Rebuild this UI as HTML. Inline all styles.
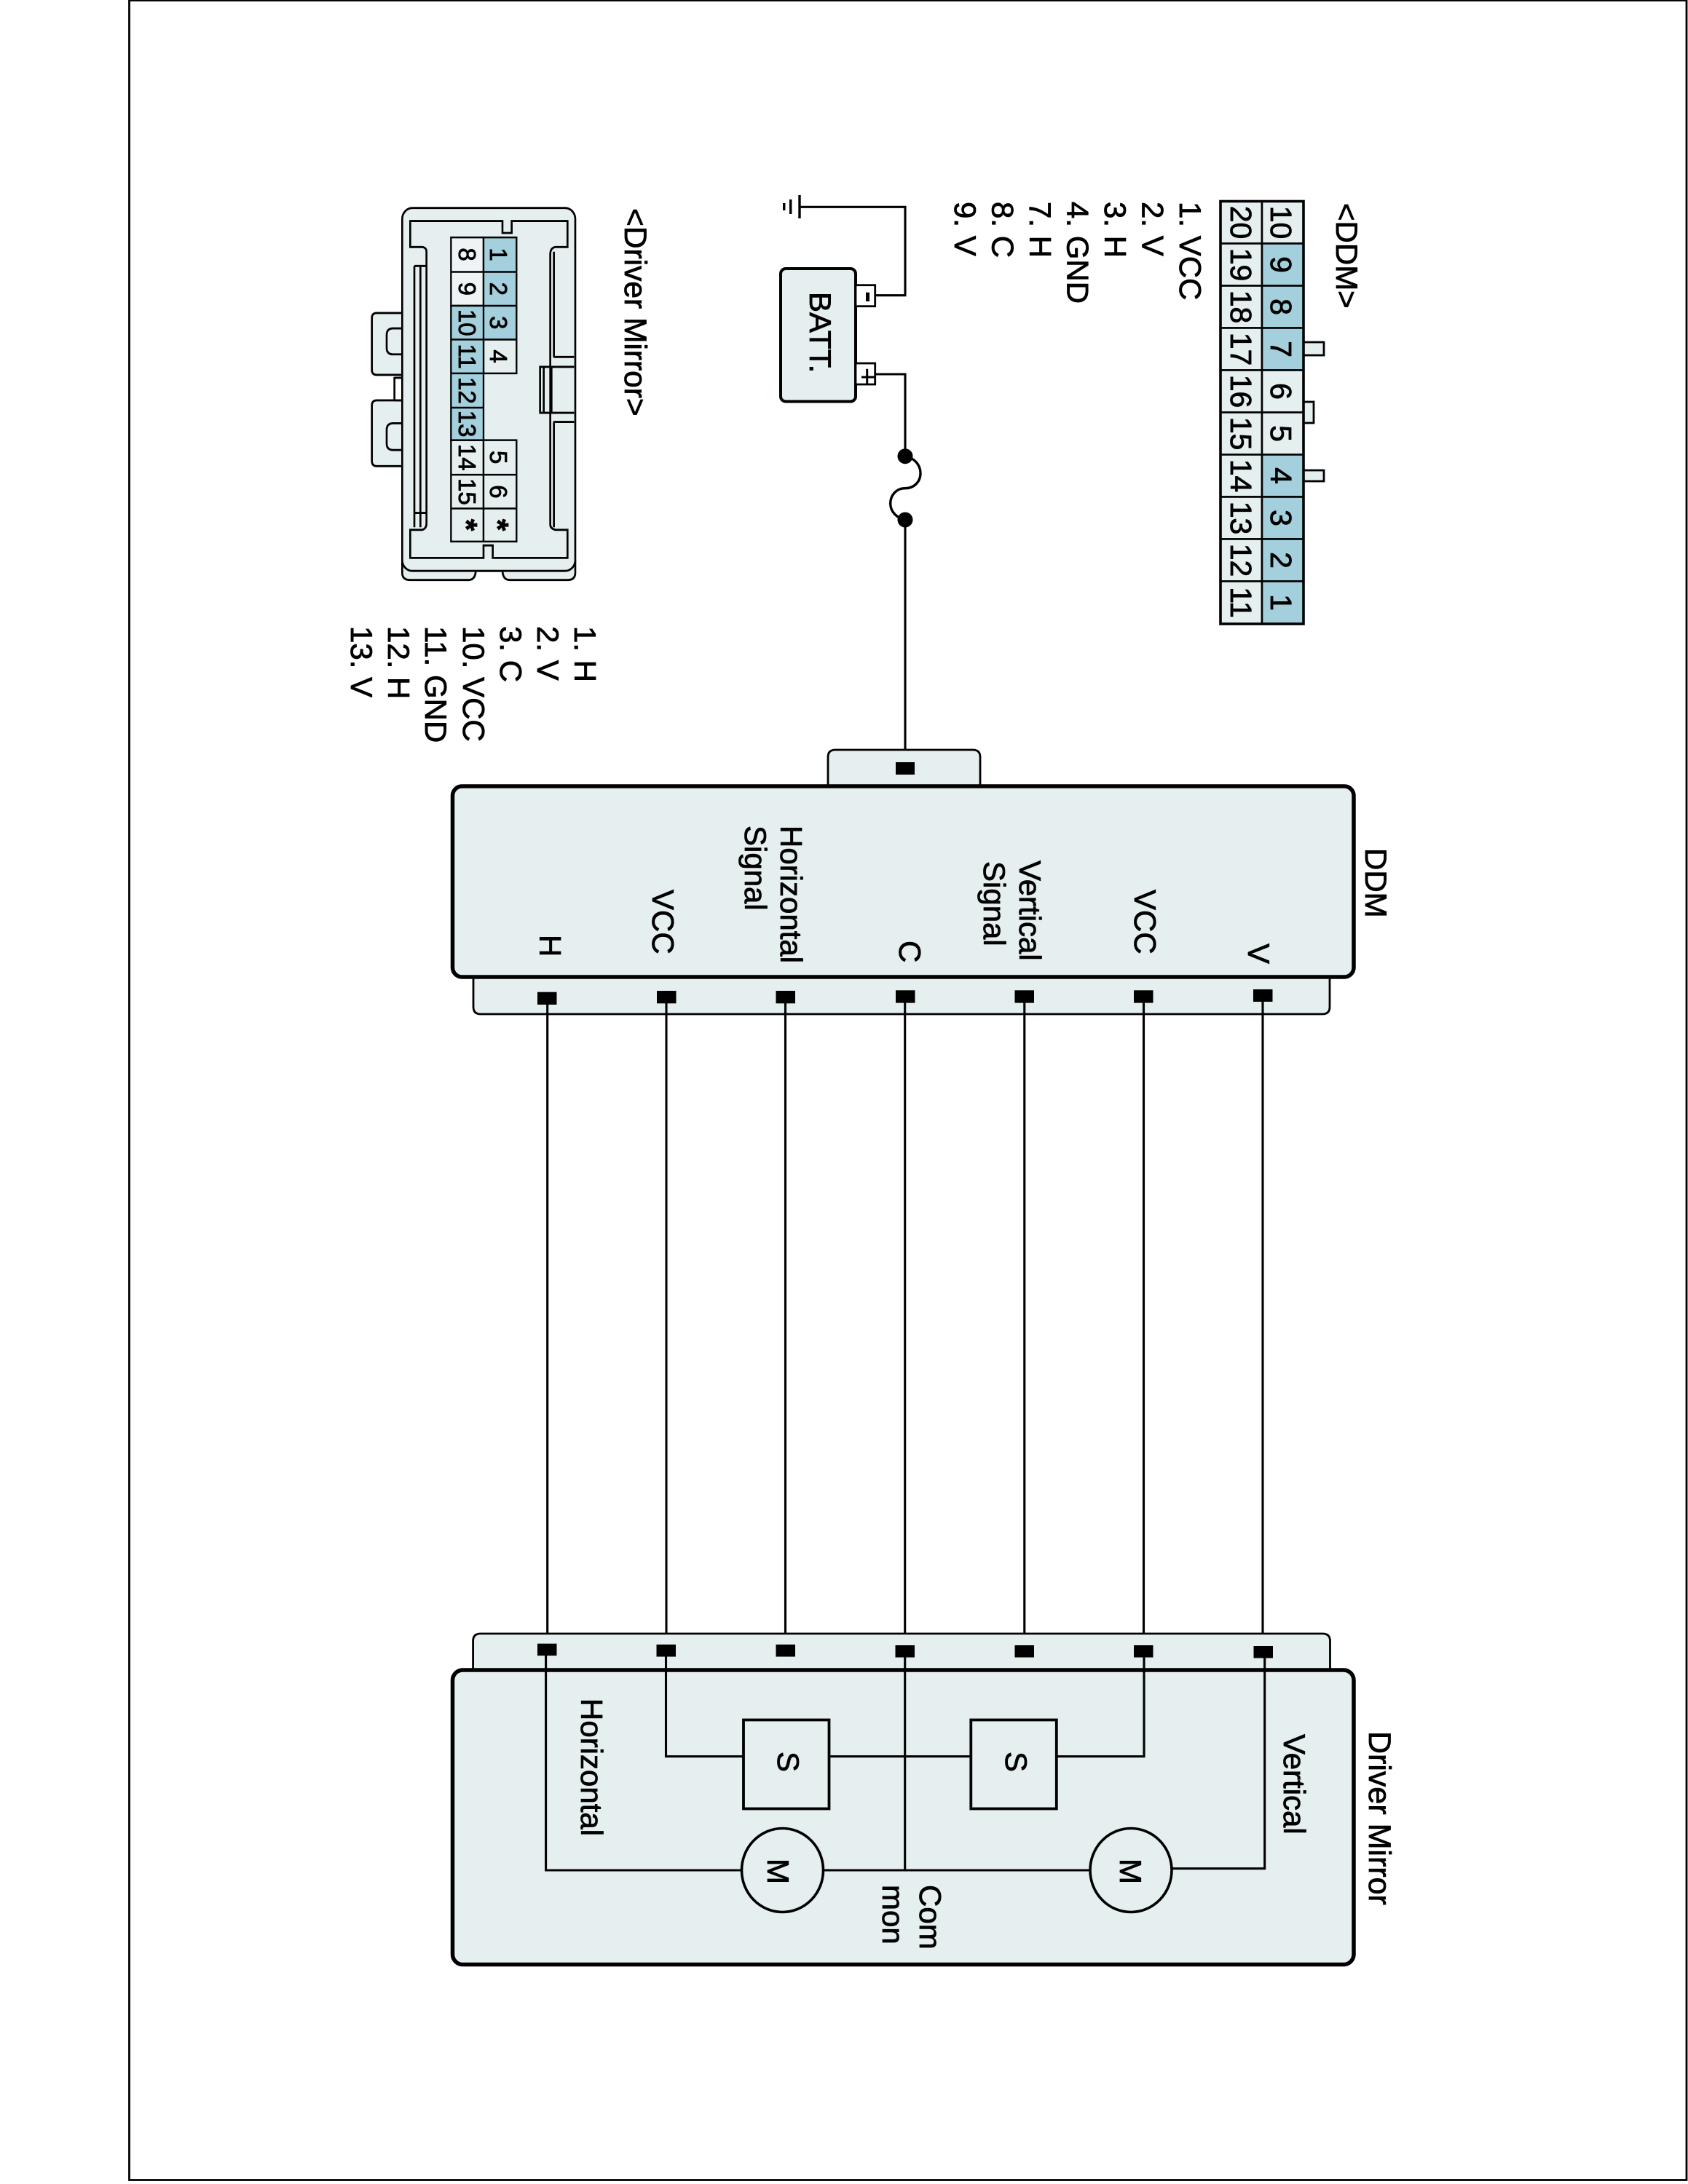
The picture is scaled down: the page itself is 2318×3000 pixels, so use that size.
<!DOCTYPE html>
<html lang="en">
<head>
<meta charset="utf-8">
<title>Driver Mirror wiring diagram</title>
<style>
html,body{margin:0;padding:0;background:#fff;width:2318px;height:3000px;overflow:hidden}
svg{display:block}
text{font-family:"Liberation Sans",sans-serif;font-size:42px;fill:#000;stroke:#000;stroke-width:.8}
.w{fill:none;stroke:#000;stroke-width:3.1}
.l{fill:#e6eff0;stroke:#000;stroke-width:2.8}
.b{fill:#e6eff0;stroke:#000;stroke-width:5.5}
.c{fill:#e6eff0;stroke:#000;stroke-width:2.6}
.bl{fill:#a3d0dc;stroke:#000;stroke-width:2.6}
.s{fill:none;stroke:#000;stroke-width:8}
.sf{fill:#e6eff0;stroke:#000;stroke-width:8}
.p{font-size:33px}
.n{font-size:41px}
</style>
</head>
<body>
<svg xmlns="http://www.w3.org/2000/svg" width="2318" height="3000" viewBox="0 0 2318 3000">
<rect width="2318" height="3000" fill="#fff"/>
<rect x="177.5" y="0.5" width="2138.5" height="2994" fill="none" stroke="#000" stroke-width="2.8"/>

<!-- DDM pin connector -->
<g>
<rect class="l" x="1790" y="470" width="28" height="18"/>
<rect class="l" x="1790" y="552" width="14" height="29"/>
<rect class="l" x="1790" y="646" width="28" height="15"/>
<rect class="c" x="1676" y="276.5" width="57" height="58"/><rect class="c" x="1676" y="334.5" width="57" height="58"/>
<rect class="c" x="1676" y="392.5" width="57" height="58"/><rect class="c" x="1676" y="450.5" width="57" height="58"/>
<rect class="c" x="1676" y="508.5" width="57" height="58"/><rect class="c" x="1676" y="566.5" width="57" height="58"/>
<rect class="c" x="1676" y="624.5" width="57" height="58"/><rect class="c" x="1676" y="682.5" width="57" height="58"/>
<rect class="c" x="1676" y="740.5" width="57" height="58"/><rect class="c" x="1676" y="798.5" width="57" height="58.5"/>
<rect class="c" x="1733" y="276.5" width="57" height="58"/><rect class="bl" x="1733" y="334.5" width="57" height="58"/>
<rect class="bl" x="1733" y="392.5" width="57" height="58"/><rect class="bl" x="1733" y="450.5" width="57" height="58"/>
<rect class="c" x="1733" y="508.5" width="57" height="58"/><rect class="c" x="1733" y="566.5" width="57" height="58"/>
<rect class="bl" x="1733" y="624.5" width="57" height="58"/><rect class="bl" x="1733" y="682.5" width="57" height="58"/>
<rect class="bl" x="1733" y="740.5" width="57" height="58"/><rect class="bl" x="1733" y="798.5" width="57" height="58.5"/>
<rect x="1676" y="276.5" width="114" height="580.5" fill="none" stroke="#000" stroke-width="3.6"/>
</g>
<g text-anchor="middle">
<text class="n" transform="translate(1745 305.5) rotate(90)">10</text>
<text class="n" transform="translate(1745 363.5) rotate(90)">9</text>
<text class="n" transform="translate(1745 421.5) rotate(90)">8</text>
<text class="n" transform="translate(1745 479.5) rotate(90)">7</text>
<text class="n" transform="translate(1745 537.5) rotate(90)">6</text>
<text class="n" transform="translate(1745 595.5) rotate(90)">5</text>
<text class="n" transform="translate(1745 653.5) rotate(90)">4</text>
<text class="n" transform="translate(1745 711.5) rotate(90)">3</text>
<text class="n" transform="translate(1745 769.5) rotate(90)">2</text>
<text class="n" transform="translate(1745 827.5) rotate(90)">1</text>
<text class="n" transform="translate(1690 305.5) rotate(90)">20</text>
<text class="n" transform="translate(1690 363.5) rotate(90)">19</text>
<text class="n" transform="translate(1690 421.5) rotate(90)">18</text>
<text class="n" transform="translate(1690 479.5) rotate(90)">17</text>
<text class="n" transform="translate(1690 537.5) rotate(90)">16</text>
<text class="n" transform="translate(1690 595.5) rotate(90)">15</text>
<text class="n" transform="translate(1690 653.5) rotate(90)">14</text>
<text class="n" transform="translate(1690 711.5) rotate(90)">13</text>
<text class="n" transform="translate(1690 769.5) rotate(90)">12</text>
<text class="n" transform="translate(1690 827.5) rotate(90)">11</text>
</g>
<text transform="translate(1835 279) rotate(90)">&lt;DDM&gt;</text>
<text transform="translate(1620 277) rotate(90)">1. VCC</text>
<text transform="translate(1568.5 277) rotate(90)">2. V</text>
<text transform="translate(1517 277) rotate(90)">3. H</text>
<text transform="translate(1465.5 277) rotate(90)">4. GND</text>
<text transform="translate(1414 277) rotate(90)">7. H</text>
<text transform="translate(1362.5 277) rotate(90)">8. C</text>
<text transform="translate(1311 277) rotate(90)">9. V</text>

<!-- Driver Mirror pin connector -->
<g transform="translate(520 260) scale(.3333 .3571)">
<path class="sf" d="M97 476H-8Q-28 476 -28 496V695Q-28 714 -8 714H97V476Z"/>
<path class="sf" d="M97 812H-8Q-28 812 -28 832V1045Q-28 1065 -8 1065H97V812Z"/>
<path class="s" d="M97 535H60Q33 535 33 560V610Q33 635 60 635H97"/>
<path class="s" d="M97 900H60Q33 900 33 925V978Q33 1003 60 1003H97"/>
<path class="s" d="M65 722V812M65 725H97M65 812H97"/>
<path class="sf" d="M97 1430V1475Q97 1503 130 1503H370Q398 1503 400 1468L510 1468Q512 1503 540 1503H778Q810 1503 810 1475V1430Z"/>
<rect class="sf" x="97" y="72" width="713" height="1396" rx="42"/>
<path class="s" d="M130 122H510V168H548V122H778V222H728Q707 226 707 250V1290Q707 1305 728 1310H778V1418H470V1370H432V1418H130V1310H180Q197 1305 197 1285V240Q197 225 180 222H130Z"/>
<path class="s" d="M722 240V645M722 895V1300M147 295V1300M172 295V1300M147 295H197M147 1245H197"/>
<path class="s" d="M720 645H805M720 895H805M805 683H665V860H805M680 683V860M712 683V860"/>
<path d="M298 185H432V318H298ZM298 318H432V448H298Z" fill="#eef4f5" stroke="#000" stroke-width="7"/>
<path d="M298 965H432V1098H298ZM298 1098H432V1228H298ZM298 1228H432V1355H298Z" fill="#e6eff0" stroke="#000" stroke-width="7"/>
<path d="M432 965H568V1098H432ZM432 1098H568V1228H432ZM432 1228H568V1355H432ZM432 578H568V708H432Z" fill="#e6eff0" stroke="#000" stroke-width="7"/>
<path d="M432 185H568V318H432ZM432 318H568V448H432ZM432 448H568V578H432ZM298 448H432V578H298ZM298 578H432V708H298ZM298 708H432V840H298ZM298 840H432V965H298Z" fill="#a3d0dc" stroke="#000" stroke-width="7"/>
</g>
<g text-anchor="middle">
<text class="p" transform="translate(630 349.6) rotate(90)">8</text>
<text class="p" transform="translate(630 396.8) rotate(90)">9</text>
<text class="p" transform="translate(630 443.2) rotate(90)">10</text>
<text class="p" transform="translate(630 489.6) rotate(90)">11</text>
<text class="p" transform="translate(630 536.4) rotate(90)">12</text>
<text class="p" transform="translate(630 582.1) rotate(90)">13</text>
<text class="p" transform="translate(630 628.2) rotate(90)">14</text>
<text class="p" transform="translate(630 675.4) rotate(90)">15</text>
<text transform="translate(626 721.1) rotate(90)" style="font-size:42px;font-weight:bold">*</text>
<text class="p" transform="translate(673 349.6) rotate(90)">1</text>
<text class="p" transform="translate(673 396.8) rotate(90)">2</text>
<text class="p" transform="translate(673 443.2) rotate(90)">3</text>
<text class="p" transform="translate(673 489.6) rotate(90)">4</text>
<text class="p" transform="translate(673 628.2) rotate(90)">5</text>
<text class="p" transform="translate(673 675.4) rotate(90)">6</text>
<text transform="translate(669 721.1) rotate(90)" style="font-size:42px;font-weight:bold">*</text>
</g>
<text transform="translate(858 286) rotate(90)" style="font-size:42.5px">&lt;Driver Mirror&gt;</text>
<text transform="translate(789 860) rotate(90)">1. H</text>
<text transform="translate(738 860) rotate(90)">2. V</text>
<text transform="translate(687 860) rotate(90)">3. C</text>
<text transform="translate(636 860) rotate(90)">10. VCC</text>
<text transform="translate(584 860) rotate(90)">11. GND</text>
<text transform="translate(533 860) rotate(90)">12. H</text>
<text transform="translate(482 860) rotate(90)">13. V</text>

<!-- Ground, battery, fuse -->
<path class="w" d="M1098 284.3H1243V405.7H1201.7"/>
<path d="M1098 268V300M1085.7 274V294M1076.7 279V289" fill="none" stroke="#000" stroke-width="3.4"/>
<rect x="1072" y="369" width="103" height="182.5" rx="7" fill="#e6eff0" stroke="#000" stroke-width="4"/>
<rect x="1175" y="391.7" width="26.7" height="29" fill="#fff" stroke="#000" stroke-width="2.8"/>
<rect x="1175" y="499" width="26.7" height="29" fill="#fff" stroke="#000" stroke-width="2.8"/>
<path d="M1191.5 401.7V414" fill="none" stroke="#000" stroke-width="5"/>
<path d="M1183 518H1201.7M1190.7 506.7V527" fill="none" stroke="#000" stroke-width="3"/>
<text transform="translate(1112 401) rotate(90)">BATT.</text>
<path class="w" d="M1201.7 514H1243V627"/>
<path d="M1243 627C1260 630 1264 643 1264 650C1264 662 1255 670.7 1243 670.7C1231 670.7 1222.7 680 1222.7 691.7C1222.7 703 1232 712 1243 714" fill="none" stroke="#000" stroke-width="3.4"/>
<circle cx="1243" cy="626.7" r="10.5"/>
<circle cx="1243" cy="714" r="10.5"/>
<path class="w" d="M1243 714V1055"/>

<!-- DDM box -->
<path class="l" d="M1137 1079V1040Q1137 1030 1147 1030H1336Q1346 1030 1346 1040V1079Z"/>
<path class="l" d="M650 1342V1383Q650 1393 660 1393H1816Q1826 1393 1826 1383V1342Z"/>
<rect class="b" x="621.5" y="1080" width="1237.5" height="262" rx="13"/>
<rect x="1230" y="1047" width="26" height="17"/>
<g>
<rect x="738" y="1362.7" width="26.5" height="17.3"/>
<rect x="902" y="1361" width="26.5" height="17.3"/>
<rect x="1065.5" y="1361" width="26.5" height="17.3"/>
<rect x="1230" y="1360.3" width="26.5" height="17.3"/>
<rect x="1393.5" y="1360.3" width="26.5" height="17.3"/>
<rect x="1557" y="1360.3" width="26.5" height="17.3"/>
<rect x="1721" y="1359" width="26.5" height="17"/>
</g>
<text transform="translate(741 1284) rotate(90)">H</text>
<text transform="translate(896 1222) rotate(90)">VCC</text>
<text transform="translate(1072 1134) rotate(90)">Horizontal</text>
<text transform="translate(1023 1134) rotate(90)">Signal</text>
<text transform="translate(1235 1292) rotate(90)">C</text>
<text transform="translate(1400 1182) rotate(90)">Vertical</text>
<text transform="translate(1351 1183) rotate(90)">Signal</text>
<text transform="translate(1558 1222) rotate(90)">VCC</text>
<text transform="translate(1714 1296) rotate(90)">V</text>
<text transform="translate(1875 1165) rotate(90)">DDM</text>

<!-- Bus wires -->
<path class="w" d="M751.7 1375V2265M915 1375V2265M1078.5 1375V2270M1242.7 1375V2270M1406.8 1375V2270M1570.5 1375V2270M1734 1375V2270"/>

<!-- Driver Mirror box -->
<path class="l" d="M649.6 2294V2254Q649.6 2244 660 2244H1816Q1826.5 2244 1826.5 2254V2294Z"/>
<rect class="b" x="621.5" y="2294" width="1237.5" height="404.5" rx="14"/>
<g>
<rect x="738" y="2257.7" width="26.5" height="16.6"/>
<rect x="901.5" y="2259" width="26.5" height="16.6"/>
<rect x="1065.5" y="2259" width="26.5" height="16.6"/>
<rect x="1229.5" y="2260" width="26.5" height="16.6"/>
<rect x="1393.5" y="2260" width="26.5" height="16.6"/>
<rect x="1557" y="2260" width="26.5" height="16.6"/>
<rect x="1721.5" y="2261" width="26.5" height="16.6"/>
</g>
<path class="w" d="M749.6 2270V2569H1018.8"/>
<path class="w" d="M914.5 2270V2412.7H1021"/>
<path class="w" d="M1138.5 2412.7H1333.3"/>
<path class="w" d="M1450.4 2412.7H1571V2270"/>
<path class="w" d="M1242.7 2270V2569"/>
<path class="w" d="M1130 2569H1497.4"/>
<path class="w" d="M1608.5 2566.7H1736.7V2270"/>
<rect x="1021" y="2362.5" width="117.5" height="122" fill="#e6eff0" stroke="#000" stroke-width="3.8"/>
<rect x="1333.3" y="2362.5" width="117.5" height="122" fill="#e6eff0" stroke="#000" stroke-width="3.8"/>
<ellipse cx="1074.5" cy="2569" rx="56" ry="57.5" fill="#e6eff0" stroke="#000" stroke-width="3.6"/>
<ellipse cx="1553" cy="2569" rx="56" ry="57.5" fill="#e6eff0" stroke="#000" stroke-width="3.6"/>
<text transform="translate(798 2333) rotate(90)">Horizontal</text>
<text transform="translate(1068 2406) rotate(90)">S</text>
<text transform="translate(1381 2406) rotate(90)">S</text>
<text transform="translate(1054 2553) rotate(90)">M</text>
<text transform="translate(1538 2553) rotate(90)">M</text>
<text transform="translate(1263 2589) rotate(90)">Com</text>
<text transform="translate(1212 2589) rotate(90)">mon</text>
<text transform="translate(1763 2382) rotate(90)">Vertical</text>
<text transform="translate(1880 2378) rotate(90)" style="font-size:43px">Driver Mirror</text>
</svg>
</body>
</html>
